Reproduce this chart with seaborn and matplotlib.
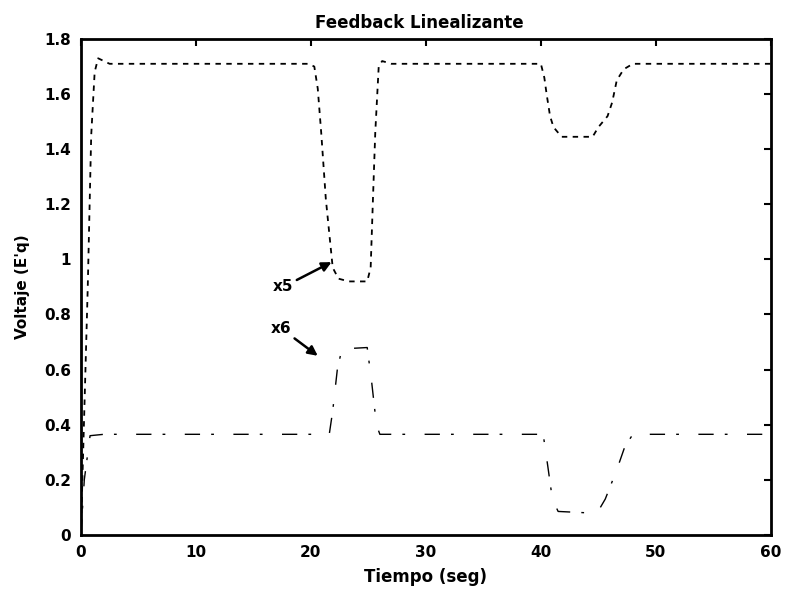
import matplotlib
matplotlib.use("Agg")
import matplotlib.pyplot as plt
import seaborn as sns
import pandas as pd

# Generator internal voltage E'q under feedback-linearizing control
t_x5 = [0, 0.3, 0.6, 0.9, 1.2, 1.5, 2.5, 10, 19.8, 20.3, 20.6, 20.9, 21.3, 21.9,
        22.4, 23.3, 24.9, 25.2, 25.4, 25.6, 25.9, 26.2, 27, 40.0, 40.3, 40.5,
        40.8, 41.1, 41.8, 44.5, 45.0, 45.8, 46.2, 46.6, 47.2, 48.0, 60]
v_x5 = [0, 0.45, 0.9, 1.45, 1.68, 1.73, 1.71, 1.71, 1.71, 1.70, 1.62, 1.46, 1.22,
        0.97, 0.93, 0.92, 0.92, 0.97, 1.22, 1.46, 1.70, 1.72, 1.71, 1.71, 1.66,
        1.60, 1.52, 1.48, 1.445, 1.445, 1.48, 1.52, 1.57, 1.65, 1.69, 1.71, 1.71]

t_x6 = [0, 0.3, 0.8, 2.0, 21.6, 21.9, 22.3, 22.7, 24.9, 25.3, 25.7, 26.0,
        40.2, 40.6, 41.0, 41.5, 44.0, 44.9, 45.6, 46.6, 47.3, 48.0, 60]
v_x6 = [0, 0.2, 0.36, 0.365, 0.365, 0.45, 0.60, 0.675, 0.68, 0.55, 0.40, 0.365,
        0.365, 0.25, 0.13, 0.085, 0.08, 0.08, 0.13, 0.236, 0.32, 0.365, 0.365]

x_ticks = [0, 10, 20, 30, 40, 50, 60]
y_ticks = [0, 0.2, 0.4, 0.6, 0.8, 1.0, 1.2, 1.4, 1.6, 1.8]

df5 = pd.DataFrame({"t": t_x5, "v": v_x5})
df6 = pd.DataFrame({"t": t_x6, "v": v_x6})

sns.set_theme(style="white")
plt.rcParams["font.family"] = ["DejaVu Sans"]
plt.rcParams["font.weight"] = "bold"
plt.rcParams["text.color"] = "black"
plt.rcParams["axes.labelcolor"] = "black"

fig = plt.figure(figsize=(7.85, 5.91), dpi=100)
ax = fig.add_axes([0.103, 0.095, 0.879, 0.839])

sns.lineplot(data=df5, x="t", y="v", ax=ax, color="black", linewidth=1.3,
             sort=False, estimator=None)
ax.lines[-1].set_dashes((3, 3))
sns.lineplot(data=df6, x="t", y="v", ax=ax, color="black", linewidth=1.0,
             sort=False, estimator=None)
ax.lines[-1].set_dashes((11, 8, 2, 14))

ax.set_xlim(0, 60)
ax.set_ylim(0, 1.8)
ax.set_xticks(x_ticks)
ax.set_yticks(y_ticks)
ax.set_xticklabels([f"{v:g}" for v in x_ticks])
ax.set_yticklabels([f"{v:g}" for v in y_ticks])
ax.tick_params(direction="in", length=5, width=1.5, top=True, right=True,
               labelsize=11, colors="black", pad=7)
for lab in ax.get_xticklabels() + ax.get_yticklabels():
    lab.set_fontweight("bold")
for sp in ax.spines.values():
    sp.set_visible(True)
    sp.set_color("black")
    sp.set_linewidth(2.0)

ax.set_title("Feedback Linealizante", fontsize=12, fontweight="bold", pad=8,
             x=0.49, color="black")
ax.set_xlabel("Tiempo (seg)", fontsize=12, fontweight="bold", labelpad=6,
              color="black")
ax.set_ylabel("Voltaje (E'q)", fontsize=11, fontweight="bold", labelpad=10,
              color="black")

arrow = dict(arrowstyle="-|>", color="black", lw=1.8, mutation_scale=14,
             shrinkA=0, shrinkB=0)
ax.annotate("x5", xy=(21.8, 0.99), xytext=(17.6, 0.90), fontsize=11,
            fontweight="bold", ha="center", va="center", color="black",
            arrowprops=arrow)
ax.annotate("x6", xy=(20.6, 0.65), xytext=(17.4, 0.75), fontsize=11,
            fontweight="bold", ha="center", va="center", color="black",
            arrowprops=arrow)

fig.savefig("out.png", dpi=100, facecolor="white")
